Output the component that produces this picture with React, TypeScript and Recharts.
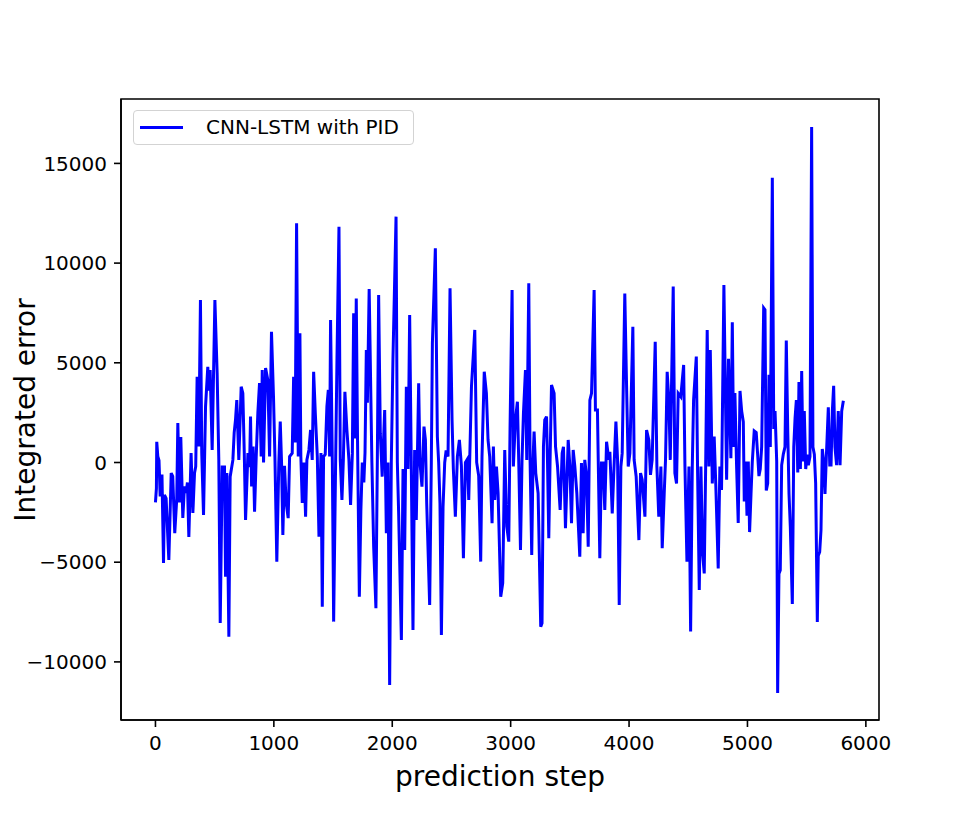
import React from "react";
import { LineChart, Line, XAxis, YAxis, ReferenceArea } from "recharts";

// prediction step (x) and integrated error (y)
const steps = [
  0, 8, 11, 20, 30, 40, 55, 68, 76, 90, 113, 133, 146, 163, 180, 189, 203, 214, 231, 245,
  259, 270, 282, 301, 316, 330, 340, 352, 366, 380, 391, 406, 423, 442, 452, 462, 479, 502, 521, 535,
  547, 564, 583, 592, 603, 620, 631, 654, 665, 676, 687, 704, 724, 738, 750, 761, 781, 795, 803, 812,
  825, 837, 851, 865, 879, 893, 902, 913, 930, 949, 964, 980, 997, 1009, 1025, 1042, 1054, 1065, 1076, 1090,
  1104, 1121, 1133, 1155, 1167, 1180, 1192, 1206, 1220, 1228, 1240, 1254, 1268, 1279, 1296, 1310, 1324, 1336, 1350, 1367,
  1381, 1398, 1409, 1420, 1434, 1448, 1460, 1471, 1479, 1494, 1505, 1522, 1533, 1550, 1561, 1575, 1587, 1600, 1617, 1634,
  1648, 1663, 1674, 1685, 1696, 1707, 1722, 1735, 1747, 1760, 1770, 1781, 1790, 1805, 1828, 1843, 1862, 1874, 1885, 1899,
  1915, 1936, 1950, 1964, 1978, 1992, 2006, 2032, 2043, 2054, 2077, 2091, 2105, 2119, 2133, 2147, 2161, 2175, 2189, 2203,
  2223, 2234, 2251, 2268, 2280, 2291, 2316, 2330, 2339, 2364, 2381, 2392, 2403, 2415, 2429, 2443, 2455, 2471, 2488, 2505,
  2516, 2533, 2550, 2567, 2584, 2601, 2618, 2635, 2646, 2669, 2697, 2713, 2730, 2747, 2758, 2777, 2795, 2809, 2823, 2843,
  2854, 2866, 2880, 2894, 2916, 2933, 2950, 2967, 2984, 2995, 3012, 3023, 3040, 3057, 3068, 3083, 3096, 3108, 3125, 3136,
  3153, 3164, 3178, 3189, 3198, 3212, 3232, 3254, 3265, 3277, 3288, 3303, 3311, 3322, 3333, 3345, 3367, 3379, 3396, 3418,
  3435, 3446, 3463, 3486, 3500, 3514, 3528, 3542, 3559, 3584, 3598, 3612, 3626, 3641, 3655, 3669, 3683, 3705, 3716, 3733,
  3753, 3767, 3781, 3795, 3810, 3829, 3838, 3858, 3871, 3889, 3903, 3917, 3931, 3942, 3964, 3978, 3993, 4007, 4032, 4043,
  4060, 4083, 4097, 4111, 4134, 4148, 4167, 4181, 4195, 4221, 4235, 4251, 4269, 4280, 4297, 4308, 4322, 4336, 4348, 4373,
  4387, 4401, 4415, 4437, 4461, 4472, 4489, 4506, 4520, 4534, 4545, 4568, 4579, 4593, 4607, 4621, 4635, 4647, 4660, 4674,
  4686, 4703, 4719, 4733, 4753, 4767, 4781, 4801, 4824, 4840, 4860, 4872, 4883, 4894, 4908, 4922, 4937, 4951, 4965, 4973,
  4985, 4996, 5007, 5018, 5030, 5041, 5057, 5074, 5086, 5097, 5108, 5120, 5137, 5148, 5159, 5171, 5182, 5193, 5210, 5222,
  5233, 5247, 5255, 5266, 5277, 5289, 5303, 5317, 5328, 5340, 5351, 5362, 5379, 5391, 5402, 5413, 5425, 5435, 5447, 5458,
  5469, 5480, 5492, 5503, 5514, 5528, 5542, 5553, 5565, 5576, 5590, 5598, 5610, 5621, 5632, 5644, 5655, 5666, 5683, 5695,
  5706, 5717, 5728, 5739, 5753, 5767, 5782, 5796, 5810,
];

const errors = [
  -2000, -1300, 1040, 300, 100, -1700, -600, -5040, -1630, -1800, -4890, -530, -700, -3540, -1800, 1980, -2000, 1280, -2780, -1200,
  -1530, -1000, -3740, 470, -2530, -530, -200, 4300, 800, 8150, 470, -2630, 2800, 4800, 3600, 4640, 630, 8150, 4490, 130,
  -8050, -230, -230, -5730, -530, -8740, -710, 130, 1500, 2130, 3130, 130, 3800, 3470, 500, -2880, 470, -230, 2300, -1200,
  800, -2470, 300, 2500, 3980, 300, 4640, 0, 4740, 4140, 300, 6560, 3300, 300, -4970, 0, 2050, 0, -3640, -170,
  -2030, -2790, 300, 470, 4300, 1000, 12000, 300, 6480, 300, -2030, 0, -2720, 130, 630, 1630, 130, 4550, 2480, 300,
  -3720, 470, -7230, 300, 400, 2800, 3640, 300, 7150, 0, -7980, 130, 5140, 11820, 130, -1880, 130, 3550, 1630, 130,
  -2130, 470, 7480, 1200, 8230, 970, -6730, -2380, 0, -1000, 500, 5640, 3000, 8700, 0, -4220, -7310, 130, 8400, 1470,
  -710, 2630, -3550, 0, -11160, 0, 5230, 12330, 0, -2550, -8900, -330, -4390, 3800, -330, 7400, -330, -8400, 630, -2880,
  3970, 0, -1210, 1800, 1130, -2050, -7150, 0, 5980, 10740, 1300, 0, -2050, -8650, -2220, 0, 600, 300, 8740, 2130,
  -330, -2720, 300, 1130, -170, -4800, 0, 170, -1880, 3800, 6650, 0, -670, -4970, 300, 4550, 3480, 1130, 300, -3050,
  800, -1880, -200, -1550, -6730, -6050, 630, -3200, -3970, 1800, 8650, -200, 2130, 3050, 130, -4390, 130, 2470, 4640, 130,
  8990, 130, -4640, 130, 1550, -530, -1550, -8230, -8060, 800, 2130, 2300, 130, -3800, 130, 3890, 3470, 800, -200, -2380,
  470, 790, -3300, 1130, -200, -3050, 630, -200, -1550, -4720, -30, -3550, 130, -700, -4220, 3130, 3470, 8650, 2630, 2630,
  -4800, -30, -30, -2380, 1040, 130, 540, -2550, -530, 2050, 130, -7150, -200, 470, 8480, 4140, -200, 470, 6810, 130,
  -700, -3890, -530, -870, -2720, 1630, 1130, -620, 130, 6060, -200, -2720, -200, -4300, -1550, 130, 4550, 3130, 130, 8820,
  -530, -1050, 3470, 3300, 4890, -200, -4970, -200, -8480, -200, 3130, 5310, -530, -6390, -200, -4550, -5560, -200, 6650, -200,
  5640, -1050, 1300, -1210, -5310, -200, -1380, 8900, -860, 5200, 220, 7030, 780, 3490, -130, -3030, 3590, 2580, 2040, -1950,
  50, -2670, 50, -3490, -1580, 50, 1580, 1500, 400, -680, -330, 780, 7750, 7660, -1400, -1040, 4400, 780, 14280, 1680,
  2580, 50, -11560, -5580, -5400, -130, 420, 780, 6120, 1680, -1580, -3220, -7100, 780, 2220, 3130, -500, 4040, -330, 4590,
  50, 2580, -330, 400, -130, 300, 16820, 780, 400, -1040, -8000, -4670, -4490, -3400, 680, 50, -1580, 250, 2770, -130,
  -130, 2580, 3850, 780, -130, 2580, -130, 2580, 3100,
];

const xTicks = [0, 1000, 2000, 3000, 4000, 5000, 6000];
const yTicks = [-10000, -5000, 0, 5000, 10000, 15000];
const xDomain = [-291, 6111];
const yDomain = [-12914, 18230];

const data = steps.map((s, i) => ({ step: s, error: errors[i] }));

const font = "'DejaVu Sans', sans-serif";
const minus = (v: number) => String(v).replace("-", "\u2212");

export default function App() {
  const tickStyle = { fill: "#000", fontSize: 20, fontFamily: font };
  const lineStyle = { stroke: "#000", strokeWidth: 1.6 };

  return (
    <div style={{ position: "absolute", left: 0, top: 0, width: 975, height: 825, background: "#fff" }}>
      <LineChart
        width={975}
        height={825}
        data={data}
        margin={{ top: 99, right: 96, bottom: 65, left: 41 }}
      >
        <XAxis
          dataKey="step"
          type="number"
          domain={xDomain}
          ticks={xTicks}
          allowDataOverflow
          height={40}
          tick={tickStyle}
          tickSize={7}
          tickMargin={9}
          axisLine={lineStyle}
          tickLine={lineStyle}
        />
        <YAxis
          type="number"
          domain={yDomain}
          ticks={yTicks}
          allowDataOverflow
          width={80}
          tick={tickStyle}
          tickFormatter={minus}
          tickSize={7}
          tickMargin={7}
          axisLine={lineStyle}
          tickLine={lineStyle}
        />
        <Line
          dataKey="error"
          type="linear"
          stroke="#0000ff"
          strokeWidth={3}
          dot={false}
          isAnimationActive={false}
        />
        {/* axes frame */}
        <ReferenceArea
          x1={xDomain[0]}
          x2={xDomain[1]}
          y1={yDomain[0]}
          y2={yDomain[1]}
          fill="none"
          fillOpacity={0}
          stroke="#000"
          strokeWidth={1.6}
          ifOverflow="visible"
        />
      </LineChart>

      {/* legend */}
      <div
        style={{
          position: "absolute",
          left: 133,
          top: 110,
          width: 281,
          height: 35,
          border: "1.5px solid #d3d3d3",
          borderRadius: 4,
          background: "rgba(255,255,255,0.8)",
          boxSizing: "border-box",
          fontFamily: font,
        }}
      >
        <div style={{ position: "absolute", left: 6, top: 15, width: 43, height: 3, background: "#0000ff" }} />
        <div style={{ position: "absolute", left: 72, top: -1, fontSize: 20, lineHeight: "35px", color: "#000", whiteSpace: "nowrap" }}>
          CNN-LSTM with PID
        </div>
      </div>

      {/* axis titles */}
      <div
        style={{
          position: "absolute",
          left: 300,
          top: 763,
          width: 400,
          textAlign: "center",
          fontFamily: font,
          fontSize: 28,
          lineHeight: "28px",
          color: "#000",
        }}
      >
        prediction step
      </div>
      <div
        style={{
          position: "absolute",
          left: 26 - 200,
          top: 410 - 14,
          width: 400,
          height: 28,
          textAlign: "center",
          fontFamily: font,
          fontSize: 28,
          lineHeight: "28px",
          color: "#000",
          transform: "rotate(-90deg)",
          transformOrigin: "50% 50%",
        }}
      >
        Integrated error
      </div>
    </div>
  );
}
